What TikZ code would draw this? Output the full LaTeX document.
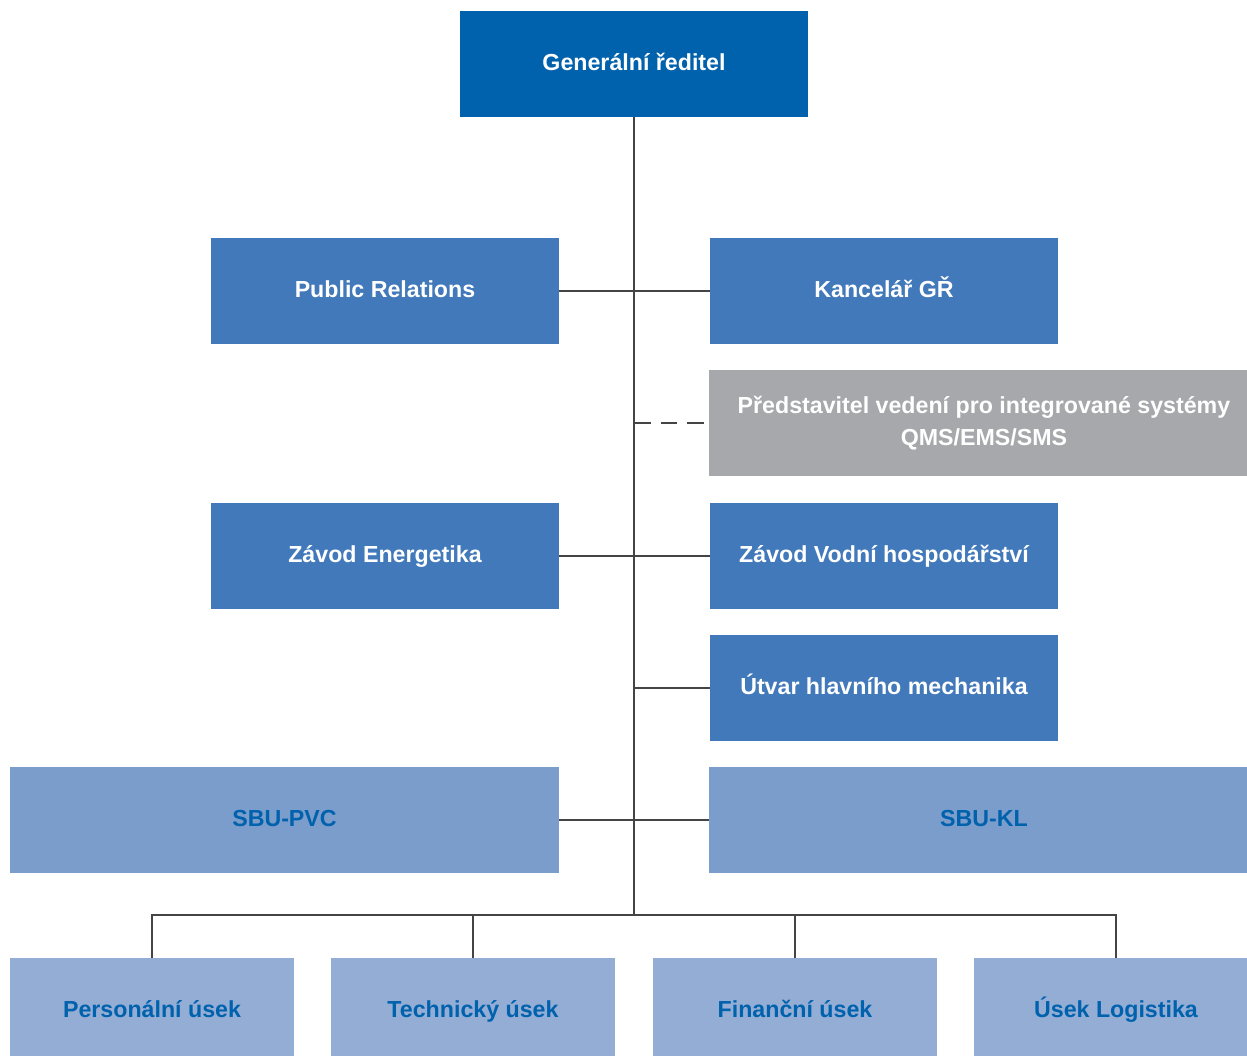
\documentclass[tikz,border=0pt]{standalone}
\usepackage{fontspec}
\setmainfont{Liberation Sans}
\definecolor{cdark}{HTML}{0061AD}
\definecolor{cmid}{HTML}{4179BA}
\definecolor{cgray}{HTML}{A7A8AB}
\definecolor{csbu}{HTML}{7B9DCC}
\definecolor{clight}{HTML}{93ADD5}
\definecolor{cline}{HTML}{444444}
\begin{document}
\begin{tikzpicture}[x=1pt,y=-1pt,
  box/.style={rectangle, inner sep=0pt, font=\fontsize{23.2}{31.5}\selectfont\bfseries, align=center, minimum height=106pt},
  oneline/.style={text height=16.5pt, text depth=4pt},
  wide348/.style={minimum width=348pt},
  wbox/.style={box, text=white},
  topbox/.style={wbox, oneline, wide348, fill=cdark},
  midbox/.style={wbox, oneline, wide348, fill=cmid},
  graybox/.style={wbox, minimum width=550pt, fill=cgray},
  sbubox/.style={box, oneline, text=cdark, fill=csbu},
  lowbox/.style={box, oneline, text=cdark, fill=clight, minimum width=284pt},
  conn/.style={draw=cline, line width=1.2pt}]
\useasboundingbox (0,0) rectangle (1247,1056);
\begin{scope}
\clip (0,0) rectangle (1247,1056);
% boxes
\node[topbox] (gr) at (634,64) {Generální ředitel};
\node[midbox] (pr) at (385,291) {Public Relations};
\node[midbox] (kgr) at (884,291) {Kancelář GŘ};
\node[graybox] (qms) at (984,423) {Představitel vedení pro integrované systémy\\QMS/EMS/SMS};
\node[midbox] (ze) at (385,556) {Závod Energetika};
\node[midbox] (zvh) at (884,556) {Závod Vodní hospodářství};
\node[midbox] (uhm) at (884,688) {Útvar hlavního mechanika};
\node[sbubox, minimum width=549pt] (pvc) at (284.5,820) {SBU-PVC};
\node[sbubox, minimum width=550pt] (kl) at (984,820) {SBU-KL};
\node[lowbox] (pu) at (152,1011) {Personální úsek};
\node[lowbox] (tu) at (473,1011) {Technický úsek};
\node[lowbox] (fu) at (795,1011) {Finanční úsek};
\node[lowbox] (ul) at (1116,1011) {Úsek Logistika};
% connectors
\coordinate (tb) at (634,915);
\draw[conn] (gr.south) -- (tb);
\draw[conn] (pr.east) -- (kgr.west);
\draw[conn, dash pattern=on 16.5pt off 10pt] (634,423) -- (qms.west);
\draw[conn] (ze.east) -- (zvh.west);
\draw[conn] (634,688) -- (uhm.west);
\draw[conn] (pvc.east) -- (kl.west);
\draw[conn] (pu.north) |- (tb) -| (ul.north);
\draw[conn] (tu.north) -- (tu.north |- tb);
\draw[conn] (fu.north) -- (fu.north |- tb);
\end{scope}
\end{tikzpicture}
\end{document}
